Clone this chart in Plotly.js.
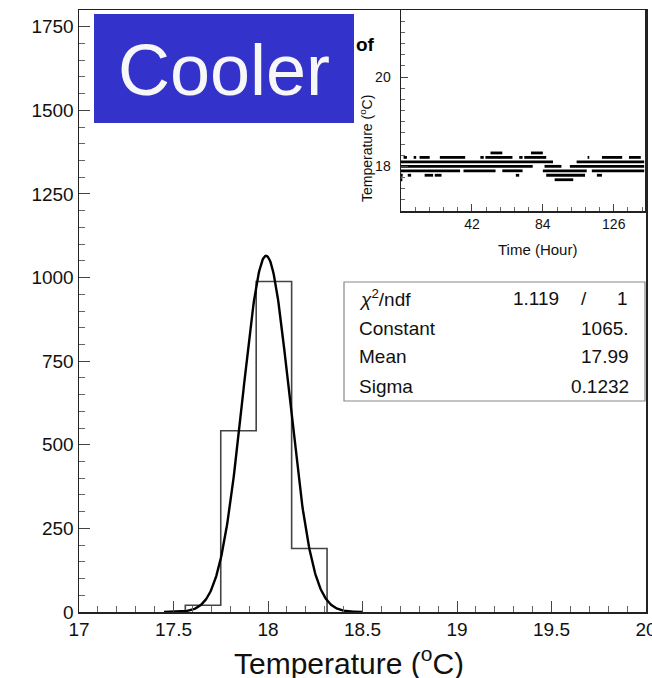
<!DOCTYPE html>
<html>
<head>
<meta charset="utf-8">
<script src="https://cdn.plot.ly/plotly-3.0.1.min.js"></script>
<style>html,body{margin:0;padding:0;background:#fff;overflow:hidden;}#chart{width:652px;height:678px;}</style>
</head>
<body>
<div id="chart"></div>
<script>
// ---- Main histogram data ----
const binEdges = [17.5625, 17.75, 17.9375, 18.125, 18.3125];
const binCounts = [20, 542, 988, 190];

// ---- Gaussian fit parameters (from stats box) ----
const fitChi2 = "1.119";
const fitNdf = "1";
const fitConstant = 1065;
const fitMean = 17.99;
const fitSigma = 0.1232;
const fitRange = [17.45, 18.5];

// ---- Inset: temperature vs time, segments [startHour, endHour] per reading level ----
const insetLevels = [18.3, 18.2, 18.1, 18.0, 17.9, 17.8, 17.7];
const insetSegments = [
  [[53,60],[77,84]],
  [[1.5,3.5],[7.5,9],[11,17],[23,38],[47,49],[50,66],[70,72],[73,86],[110.5,111.5],[119,131],[135,142]],
  [[0,90],[104,144]],
  [[0,78],[85,95],[100,144]],
  [[0,35],[37,56],[60,72],[84,110],[113,144]],
  [[0,1],[4,6],[14,19],[20,24],[68,70],[86,109],[116,119]],
  [[0,0.8],[91,102]]
];

// ---- Tick labels ----
const xTicks = [17, 17.5, 18, 18.5, 19, 19.5, 20];
const yTicks = [0, 250, 500, 750, 1000, 1250, 1500, 1750];
const insetXTicks = [42, 84, 126];
const insetYTicks = [18, 20];

// ---- geometry helpers (pixel -> paper) ----
const L = 79, R = 6, T = 10, B = 66, W = 652, H = 678;
const PW = W - L - R, PH = H - T - B;
const px = x => (x - L) / PW;
const py = y => (H - B - y) / PH;

const FONT = "Liberation Sans, Arial, Helvetica, sans-serif";

// histogram step outline
const hx = [], hy = [];
hx.push(binEdges[0]); hy.push(0);
for (let i = 0; i < binCounts.length; i++) {
  hx.push(binEdges[i]); hy.push(binCounts[i]);
  hx.push(binEdges[i + 1]); hy.push(binCounts[i]);
}
hx.push(binEdges[binEdges.length - 1]); hy.push(0);

// fit curve
const fx = [], fy = [];
for (let i = 0; i <= 300; i++) {
  const x = fitRange[0] + (fitRange[1] - fitRange[0]) * i / 300;
  fx.push(x);
  fy.push(fitConstant * Math.exp(-0.5 * Math.pow((x - fitMean) / fitSigma, 2)));
}

const data = [
  {x: hx, y: hy, type: 'scatter', mode: 'lines', line: {color: '#444', width: 1.6}, xaxis: 'x', yaxis: 'y', hoverinfo: 'skip'},
  {x: fx, y: fy, type: 'scatter', mode: 'lines', line: {color: '#000', width: 2.4}, xaxis: 'x', yaxis: 'y', hoverinfo: 'skip'}
];

insetLevels.forEach((lvl, k) => {
  const sx = [], sy = [];
  insetSegments[k].forEach(s => { sx.push(s[0], s[1], null); sy.push(lvl, lvl, null); });
  data.push({x: sx, y: sy, type: 'scatter', mode: 'lines', line: {color: '#000', width: 2.8},
             xaxis: 'x2', yaxis: 'y2', hoverinfo: 'skip', connectgaps: false});
});

const axisCommon = {
  showline: true, linecolor: '#222', linewidth: 1.5, mirror: true,
  showgrid: false, zeroline: false, ticks: 'inside', tickcolor: '#444', tickwidth: 1
};

function ann(text, x, y, xanchor, size, extra) {
  return Object.assign({text: text, xref: 'paper', yref: 'paper', x: px(x), y: py(y),
    xanchor: xanchor, yanchor: 'middle', showarrow: false,
    font: {family: FONT, size: size, color: '#111'}}, extra || {});
}

const layout = {
  width: W, height: H,
  margin: {l: L, r: R, t: T, b: B, pad: 0},
  paper_bgcolor: '#fff', plot_bgcolor: '#fff',
  showlegend: false,
  font: {family: FONT, color: '#111'},
  xaxis: Object.assign({}, axisCommon, {
    domain: [0, 1], range: [17, 20], tickmode: 'array', tickvals: xTicks,
    ticktext: xTicks.map(String), ticklen: 11, ticklabeloverflow: 'allow',
    minor: {dtick: 0.1, tick0: 17, ticklen: 6, ticks: 'inside', tickcolor: '#666'},
    tickfont: {family: FONT, size: 19, color: '#111'}
  }),
  yaxis: Object.assign({}, axisCommon, {
    domain: [0, 1], range: [0, 1800], tickmode: 'array', tickvals: yTicks,
    ticktext: yTicks.map(String), ticklen: 11,
    minor: {dtick: 50, tick0: 0, ticklen: 6, ticks: 'inside', tickcolor: '#666'},
    tickfont: {family: FONT, size: 19, color: '#111'}
  }),
  xaxis2: Object.assign({}, axisCommon, {
    domain: [px(401), px(645)], anchor: 'y2', range: [0, 144.5],
    tickmode: 'array', tickvals: insetXTicks, ticktext: insetXTicks.map(String), ticklen: 7,
    minor: {dtick: 8.4, tick0: 0, ticklen: 4, ticks: 'inside', tickcolor: '#666'},
    tickfont: {family: FONT, size: 14, color: '#111'}
  }),
  yaxis2: Object.assign({}, axisCommon, {
    domain: [py(211), 1], anchor: 'x2', range: [17, 21.5],
    tickmode: 'array', tickvals: insetYTicks, ticktext: insetYTicks.map(String), ticklen: 7,
    ticklabelstandoff: 6,
    minor: {dtick: 0.25, tick0: 17, ticklen: 4, ticks: 'inside', tickcolor: '#666'},
    tickfont: {family: FONT, size: 14, color: '#111'}
  }),
  shapes: [
    // stats box
    {type: 'rect', xref: 'paper', yref: 'paper', x0: px(344), x1: px(645), y0: py(401), y1: py(282),
     line: {color: '#888', width: 1.2}, fillcolor: '#fff', layer: 'above'},
    // label box
    {type: 'rect', xref: 'paper', yref: 'paper', x0: px(94), x1: px(354), y0: py(123), y1: py(14),
     line: {width: 0}, fillcolor: '#3333cc', layer: 'above'}
  ],
  annotations: [
    ann('Temperature (<sup>o</sup>C)', 349, 661, 'center', 30),
    ann('Time (Hour)', 537, 250, 'center', 15),
    ann('Temperature (<sup>o</sup>C)', 366, 149, 'center', 14, {textangle: -90}),
    ann('<b>of</b>', 354, 44, 'left', 19, {font: {family: FONT, size: 19, color: '#000'}}),
    // stats
    ann('<i>χ</i><sup>2</sup>/ndf', 357, 298, 'left', 19),
    ann(fitChi2, 561, 298, 'right', 19),
    ann('/', 584, 298, 'center', 19),
    ann(fitNdf, 630, 298, 'right', 19),
    ann('Constant', 357, 328, 'left', 19),
    ann(fitConstant.toFixed(0) + '.', 631, 328, 'right', 19),
    ann('Mean', 357, 357, 'left', 19),
    ann(fitMean.toFixed(2), 631, 357, 'right', 19),
    ann('Sigma', 357, 386, 'left', 19),
    ann(fitSigma.toFixed(4), 631, 386, 'right', 19),
    // label
    ann('Cooler', 224, 70, 'center', 72, {font: {family: FONT, size: 72, color: '#f7f7f7'}})
  ]
};

Plotly.newPlot('chart', data, layout, {staticPlot: true, displayModeBar: false});
</script>
</body>
</html>
